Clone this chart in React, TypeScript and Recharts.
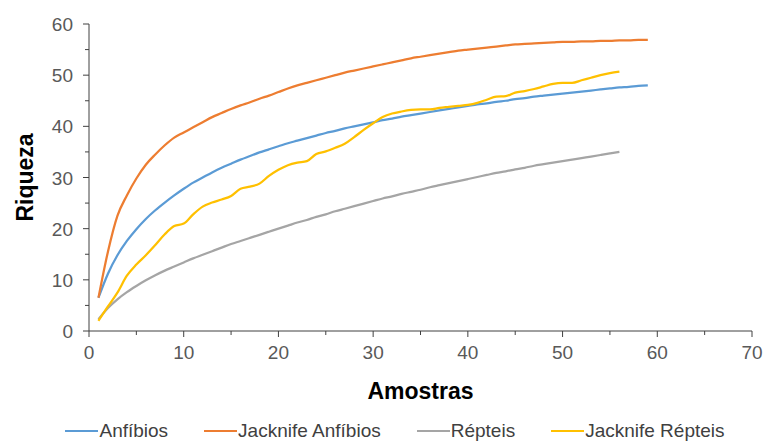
import React from 'react';
import { LineChart, Line, XAxis, YAxis, Legend } from 'recharts';

const samples = [
  1, 2, 3, 4, 5, 6, 7, 8, 9, 10, 11, 12, 13, 14, 15, 16, 17, 18, 19, 20,
  21, 22, 23, 24, 25, 26, 27, 28, 29, 30, 31, 32, 33, 34, 35, 36, 37, 38, 39, 40,
  41, 42, 43, 44, 45, 46, 47, 48, 49, 50, 51, 52, 53, 54, 55, 56, 57, 58, 59,
];

const anfibios = [
  6.5, 11.2, 14.8, 17.6, 19.9, 21.9, 23.6, 25.1, 26.5, 27.8, 29.0, 30.0, 31.0, 31.9, 32.7, 33.5, 34.2, 34.9, 35.5, 36.1,
  36.7, 37.2, 37.7, 38.2, 38.7, 39.1, 39.6, 40.0, 40.4, 40.8, 41.2, 41.5, 41.9, 42.2, 42.5, 42.8, 43.1, 43.4, 43.7, 44.0,
  44.3, 44.5, 44.8, 45.0, 45.3, 45.5, 45.8, 46.0, 46.2, 46.4, 46.6, 46.8, 47.0, 47.2, 47.4, 47.6, 47.7, 47.9, 48.0,
];

const jackAnfibios = [
  6.5, 15.5, 22.5, 26.5, 29.8, 32.5, 34.5, 36.3, 37.8, 38.8, 39.8, 40.8, 41.8, 42.6, 43.4, 44.1, 44.7, 45.4, 46.0, 46.7,
  47.4, 48.0, 48.5, 49.0, 49.5, 50.0, 50.5, 50.9, 51.3, 51.7, 52.1, 52.5, 52.9, 53.3, 53.6, 53.9, 54.2, 54.5, 54.8, 55.0,
  55.2, 55.4, 55.6, 55.8, 56.0, 56.1, 56.2, 56.3, 56.4, 56.5, 56.5, 56.6, 56.6, 56.7, 56.7, 56.8, 56.8, 56.9, 56.9,
];

const repteis = [
  2.3, 4.5, 6.2, 7.6, 8.8, 9.9, 10.9, 11.8, 12.6, 13.4, 14.2, 14.9, 15.6, 16.3, 17.0, 17.6, 18.2, 18.8, 19.4, 20.0,
  20.6, 21.2, 21.7, 22.3, 22.8, 23.4, 23.9, 24.4, 24.9, 25.4, 25.9, 26.3, 26.8, 27.2, 27.6, 28.1, 28.5, 28.9, 29.3, 29.7,
  30.1, 30.5, 30.9, 31.2, 31.6, 31.9, 32.3, 32.6, 32.9, 33.2, 33.5, 33.8, 34.1, 34.4, 34.7, 35.0,
];

const jackRepteis = [
  2.0, 4.8, 7.5, 10.8, 13.0, 14.8, 16.8, 18.9, 20.5, 21.0, 22.8, 24.3, 25.1, 25.7, 26.4, 27.8, 28.2, 28.8, 30.3, 31.5,
  32.4, 32.9, 33.2, 34.6, 35.1, 35.8, 36.6, 37.9, 39.3, 40.6, 41.8, 42.5, 42.9, 43.2, 43.3, 43.3, 43.6, 43.8, 44.0, 44.2,
  44.6, 45.2, 45.8, 45.9, 46.6, 46.9, 47.3, 47.8, 48.3, 48.5, 48.5, 49.0, 49.5, 50.0, 50.4, 50.7,
];

const xTicks = [0, 5, 10, 15, 20, 25, 30, 35, 40, 45, 50, 55, 60, 65, 70];
const yTicks = [0, 5, 10, 15, 20, 25, 30, 35, 40, 45, 50, 55, 60];
const xLabeled = [0, 10, 20, 30, 40, 50, 60, 70];
const yLabeled = [0, 10, 20, 30, 40, 50, 60];

const seriesNames = ['Anfíbios', 'Jacknife Anfíbios', 'Répteis', 'Jacknife Répteis'];
const seriesColors = ['#5B9BD5', '#ED7D31', '#A5A5A5', '#FFC000'];

const data = samples.map((s, i) => ({
  x: s,
  a: anfibios[i],
  ja: jackAnfibios[i],
  r: repteis[i],
  jr: jackRepteis[i],
}));

const FONT = '"Liberation Sans", Arial, sans-serif';
const AXIS = '#404040';
const TICKTEXT = '#595959';

const XTick = (props: any) => {
  const { x, y, payload } = props;
  const v = payload.value;
  const major = xLabeled.includes(v);
  return (
    <g>
      <line x1={x} x2={x} y1={y} y2={y + (major ? 6 : 4)} stroke={AXIS} strokeWidth={1} />
      {major && (
        <text x={x} y={y + 28} textAnchor="middle" fontSize={19} fontFamily={FONT} fill={TICKTEXT}>
          {v}
        </text>
      )}
    </g>
  );
};

const YTick = (props: any) => {
  const { x, y, payload } = props;
  const v = payload.value;
  const major = yLabeled.includes(v);
  return (
    <g>
      <line x1={x} x2={x - (major ? 6 : 4)} y1={y} y2={y} stroke={AXIS} strokeWidth={1} />
      {major && (
        <text x={x - 16} y={y + 7} textAnchor="end" fontSize={19} fontFamily={FONT} fill={TICKTEXT}>
          {v}
        </text>
      )}
    </g>
  );
};

const LegendContent = () => (
  <div
    style={{
      display: 'flex',
      justifyContent: 'center',
      alignItems: 'center',
      fontFamily: FONT,
      fontSize: 19,
      color: '#404040',
      whiteSpace: 'nowrap',
      paddingLeft: 26,
    }}
  >
    {seriesNames.map((n, i) => (
      <div key={n} style={{ display: 'flex', alignItems: 'center', marginRight: i < 3 ? 36 : 0 }}>
        <span style={{ display: 'inline-block', width: 33, height: 2.5, background: seriesColors[i], marginRight: 1 }} />
        <span>{n}</span>
      </div>
    ))}
  </div>
);

export default function App() {
  return (
    <div style={{ position: 'absolute', left: 0, top: 0, width: 764, height: 441, background: '#fff' }}>
      <LineChart width={764} height={441} data={data} margin={{ top: 24, right: 12, bottom: 70, left: 0 }}>
        <XAxis
          dataKey="x"
          type="number"
          domain={[0, 70]}
          ticks={xTicks}
          interval={0}
          tickSize={0}
          tickMargin={0}
          tickLine={false}
          axisLine={{ stroke: AXIS, strokeWidth: 1 }}
          tick={<XTick />}
          height={40}
          label={{
            content: (p: any) => {
              const vb = p.viewBox;
              return (
                <text
                  x={vb.x + vb.width / 2}
                  y={vb.y + 68}
                  textAnchor="middle"
                  fontSize={23}
                  fontWeight="bold"
                  fontFamily={FONT}
                  fill="#000"
                >
                  Amostras
                </text>
              );
            },
          }}
        />
        <YAxis
          type="number"
          domain={[0, 60]}
          ticks={yTicks}
          interval={0}
          tickSize={0}
          tickMargin={0}
          tickLine={false}
          axisLine={{ stroke: AXIS, strokeWidth: 1 }}
          tick={<YTick />}
          width={89}
          label={{
            content: (p: any) => {
              const vb = p.viewBox;
              const cx = vb.x + 33;
              const cy = vb.y + vb.height / 2;
              return (
                <text
                  x={cx}
                  y={cy}
                  transform={`rotate(-90 ${cx} ${cy})`}
                  textAnchor="middle"
                  fontSize={23}
                  fontWeight="bold"
                  fontFamily={FONT}
                  fill="#000"
                >
                  Riqueza
                </text>
              );
            },
          }}
        />
        <Legend
          verticalAlign="middle"
          align="center"
          content={<LegendContent />}
          wrapperStyle={{ position: 'absolute', top: 420, left: 0, width: 764, height: 24 }}
        />
        <Line dataKey="a" name={seriesNames[0]} stroke={seriesColors[0]} strokeWidth={2.25} dot={false} type="monotone" isAnimationActive={false} />
        <Line dataKey="ja" name={seriesNames[1]} stroke={seriesColors[1]} strokeWidth={2.25} dot={false} type="monotone" isAnimationActive={false} />
        <Line dataKey="r" name={seriesNames[2]} stroke={seriesColors[2]} strokeWidth={2.25} dot={false} type="monotone" isAnimationActive={false} />
        <Line dataKey="jr" name={seriesNames[3]} stroke={seriesColors[3]} strokeWidth={2.25} dot={false} type="monotone" isAnimationActive={false} />
      </LineChart>
    </div>
  );
}
